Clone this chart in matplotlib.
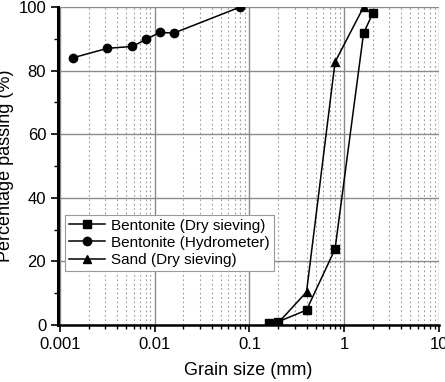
import numpy as np
import matplotlib.pyplot as plt
from matplotlib.ticker import LogLocator, MultipleLocator, FixedLocator, FixedFormatter, NullFormatter

plt.rcParams['font.family'] = ['Liberation Sans', 'DejaVu Sans']

# grain size (mm) / percentage passing (%)
bent_dry_x = [0.16, 0.2, 0.4, 0.8, 1.6, 2.0]
bent_dry_y = [0.5, 1.0, 4.7, 23.9, 91.8, 98.0]

bent_hyd_x = [0.00136, 0.00316, 0.0058, 0.0081, 0.0113, 0.0159, 0.080]
bent_hyd_y = [84.0, 87.0, 87.6, 89.8, 92.0, 91.8, 100.0]

sand_x = [0.16, 0.2, 0.4, 0.8, 1.6]
sand_y = [0.3, 0.6, 10.4, 82.7, 100.0]

xticks = [0.001, 0.01, 0.1, 1, 10]
xticklabels = ['0.001', '0.01', '0.1', '1', '10']

fig = plt.figure(figsize=(4.45, 3.82), dpi=100)
ax = fig.add_axes([58 / 445, 1 - 325 / 382, 381 / 445, 318 / 382])

ax.plot(bent_dry_x, bent_dry_y, 'k-s', lw=1.1, ms=5.5, label='Bentonite (Dry sieving)', zorder=3)
ax.plot(bent_hyd_x, bent_hyd_y, 'k-o', lw=1.1, ms=6, label='Bentonite (Hydrometer)', zorder=3)
ax.plot(sand_x, sand_y, 'k-^', lw=1.1, ms=6, label='Sand (Dry sieving)', zorder=3)

ax.set_xscale('log')
ax.set_xlim(0.000953, 10)
ax.set_ylim(0, 100)

ax.xaxis.set_major_locator(FixedLocator(xticks))
ax.xaxis.set_major_formatter(FixedFormatter(xticklabels))
ax.xaxis.set_minor_locator(LogLocator(base=10, subs=np.arange(2, 10)))
ax.xaxis.set_minor_formatter(NullFormatter())
ax.yaxis.set_major_locator(MultipleLocator(20))
ax.yaxis.set_minor_locator(MultipleLocator(10))

ax.grid(which='major', color='#8a8a8a', lw=1.0, ls='-')
ax.grid(which='minor', axis='x', color='#9a9a9a', lw=0.8, ls=(0, (1.5, 2.5)))
ax.set_axisbelow(True)

ax.spines['top'].set_visible(False)
ax.spines['right'].set_visible(False)
ax.spines['left'].set_linewidth(2.2)
ax.spines['bottom'].set_linewidth(1.8)

ax.tick_params(which='major', direction='out', length=5, width=1.2, labelsize=12)
ax.tick_params(which='minor', direction='out', length=3, width=1.0)

ax.set_xlabel('Grain size (mm)', fontsize=13, labelpad=7)
ax.set_ylabel('Percentage passing (%)', fontsize=13, labelpad=3)

leg = ax.legend(loc='upper left', bbox_to_anchor=(0.018, 0.346), fontsize=11,
                frameon=True, fancybox=False, edgecolor='#999999', framealpha=1,
                borderpad=0.25, labelspacing=0.2, handlelength=2.4, handletextpad=0.4,
                borderaxespad=0)
leg.get_frame().set_linewidth(0.8)

fig.savefig('out.png', dpi=100)
